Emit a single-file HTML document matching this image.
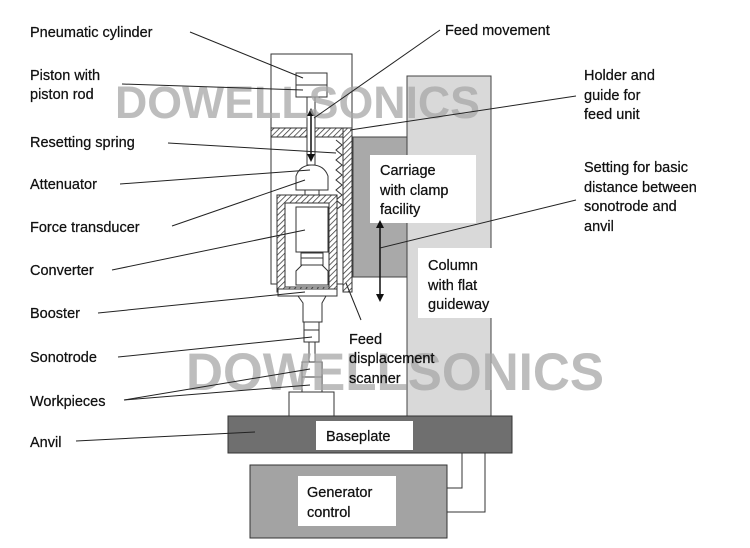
<!DOCTYPE html>
<html><head><meta charset="utf-8"><style>
body{margin:0;background:#fff}
svg{display:block}
text{font-family:"Liberation Sans",Arial,sans-serif;font-size:14.5px;fill:#111;stroke:#111;stroke-width:0.25}
.wm{font-weight:bold;fill:#a8a8a8;stroke:none;opacity:.75}
</style></head><body>
<svg width="750" height="548" viewBox="0 0 750 548" xmlns="http://www.w3.org/2000/svg">
<defs>
<pattern id="h" width="4" height="4" patternUnits="userSpaceOnUse" patternTransform="rotate(45)">
<rect width="4" height="4" fill="#fff"/><line x1="0" y1="0" x2="0" y2="4" stroke="#333" stroke-width="1.5"/></pattern>
<marker id="a" markerWidth="8" markerHeight="8" refX="4" refY="4" orient="auto-start-reverse" markerUnits="userSpaceOnUse"><path d="M0,0 L8,4 L0,8z" fill="#111"/></marker>
</defs>
<rect x="407" y="76" width="84" height="340" fill="#d9d9d9" stroke="#444"/>
<rect x="418" y="248" width="87" height="70" fill="#fff"/>
<rect x="353" y="137" width="54" height="140" fill="#a9a9a9" stroke="#444"/>
<rect x="370" y="155" width="106" height="68" fill="#fff"/>
<rect x="271" y="54" width="81" height="230" fill="#fff" stroke="#333"/>
<rect x="296" y="73" width="31" height="24" fill="#fff" stroke="#333"/>
<line x1="296" y1="85" x2="327" y2="85" stroke="#333"/>
<rect x="271" y="128" width="81" height="9" fill="url(#h)" stroke="#333"/>
<rect x="343" y="128" width="9" height="164" fill="url(#h)" stroke="#333"/>
<rect x="307" y="97" width="8" height="68" fill="#fff" stroke="#333"/>
<path d="M336,140 l6,5 -6,5 6,5 -6,5 6,5 -6,5 6,5 -6,5 6,5 -6,5 6,5 -6,5 6,5 -6,5" fill="none" stroke="#333"/>
<path d="M296,190 L296,176 Q300,165 312,165 Q324,165 328,176 L328,190 Z" fill="#fff" stroke="#333"/>
<rect x="305" y="190" width="14" height="6" fill="#fff" stroke="#333"/>
<rect x="277" y="195" width="60" height="97" fill="url(#h)" stroke="#333"/>
<rect x="285" y="203" width="44" height="84" fill="#fff" stroke="#333"/>
<rect x="296" y="207" width="32" height="45" fill="#fff" stroke="#333"/>
<rect x="301" y="253" width="22" height="12" fill="#fff" stroke="#333"/>
<line x1="301" y1="258" x2="323" y2="258" stroke="#333"/>
<path d="M296,285 L296,271 L302,265 L322,265 L328,271 L328,285Z" fill="#fff" stroke="#333"/>
<rect x="278" y="289" width="59" height="7" fill="#fff" stroke="#333"/>
<path d="M298,296 L326,296 L322,303 L322,322 L303,322 L303,303Z" fill="#fff" stroke="#333"/>
<rect x="304" y="322" width="15" height="20" fill="#fff" stroke="#333"/>
<line x1="304" y1="330" x2="319" y2="330" stroke="#333"/>
<rect x="309" y="342" width="6" height="20" fill="#fff" stroke="#333"/>
<rect x="302" y="362" width="20" height="15" fill="#fff" stroke="#333"/>
<rect x="302" y="377" width="20" height="15" fill="#fff" stroke="#333"/>
<rect x="289" y="392" width="45" height="24" fill="#fff" stroke="#333"/>
<rect x="228" y="416" width="284" height="37" fill="#6f6f6f" stroke="#333"/>
<rect x="316" y="421" width="97" height="29" fill="#fff"/>
<rect x="250" y="465" width="197" height="73" fill="#a3a3a3" stroke="#333"/>
<rect x="298" y="476" width="98" height="50" fill="#fff"/>
<path d="M462,453 V488 H447 M485,453 V512 H447" fill="none" stroke="#333"/>
<line x1="311" y1="112" x2="311" y2="158" stroke="#111" stroke-width="1.5" marker-start="url(#a)" marker-end="url(#a)"/>
<line x1="380" y1="224" x2="380" y2="298" stroke="#111" stroke-width="1.5" marker-start="url(#a)" marker-end="url(#a)"/>
<text class="wm" x="115" y="118" style="font-size:45px" textLength="365" lengthAdjust="spacingAndGlyphs">DOWELLSONICS</text>
<text class="wm" x="186" y="390" style="font-size:53px" textLength="418" lengthAdjust="spacingAndGlyphs">DOWELLSONICS</text>
<g stroke="#222" stroke-width="1" fill="none">
<line x1="190" y1="32" x2="303" y2="78"/>
<line x1="122" y1="84" x2="303" y2="90"/>
<line x1="168" y1="143" x2="336" y2="153"/>
<line x1="120" y1="184" x2="310" y2="170"/>
<line x1="172" y1="226" x2="305" y2="180"/>
<line x1="112" y1="270" x2="305" y2="230"/>
<line x1="98" y1="313" x2="305" y2="292"/>
<line x1="118" y1="357" x2="312" y2="337"/>
<line x1="124" y1="400" x2="310" y2="369"/>
<line x1="124" y1="400" x2="310" y2="385"/>
<line x1="76" y1="441" x2="255" y2="432"/>
<line x1="440" y1="30" x2="314" y2="118"/>
<line x1="576" y1="96" x2="350" y2="130"/>
<line x1="576" y1="200" x2="380" y2="248"/>
<line x1="346" y1="283" x2="361" y2="320"/>
</g>
<text x="30" y="37">Pneumatic cylinder</text>
<text x="30" y="80">Piston with</text>
<text x="30" y="99">piston rod</text>
<text x="30" y="147">Resetting spring</text>
<text x="30" y="189">Attenuator</text>
<text x="30" y="232">Force transducer</text>
<text x="30" y="275">Converter</text>
<text x="30" y="318">Booster</text>
<text x="30" y="362">Sonotrode</text>
<text x="30" y="406">Workpieces</text>
<text x="30" y="447">Anvil</text>
<text x="445" y="35">Feed movement</text>
<text x="584" y="80">Holder and</text>
<text x="584" y="100">guide for</text>
<text x="584" y="119">feed unit</text>
<text x="584" y="172">Setting for basic</text>
<text x="584" y="192">distance between</text>
<text x="584" y="211">sonotrode and</text>
<text x="584" y="231">anvil</text>
<text x="380" y="175">Carriage</text>
<text x="380" y="195">with clamp</text>
<text x="380" y="214">facility</text>
<text x="428" y="270">Column</text>
<text x="428" y="290">with flat</text>
<text x="428" y="309">guideway</text>
<text x="349" y="344">Feed</text>
<text x="349" y="363">displacement</text>
<text x="349" y="383">scanner</text>
<text x="326" y="441">Baseplate</text>
<text x="307" y="497">Generator</text>
<text x="307" y="517">control</text>
</svg>
</body></html>
